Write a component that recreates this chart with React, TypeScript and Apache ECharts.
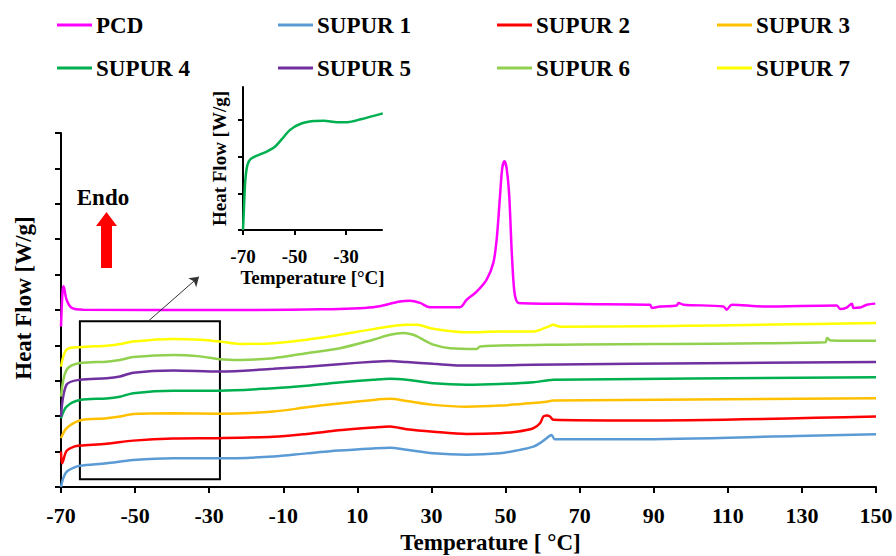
import React, { useEffect, useRef } from "react";
import * as echarts from "echarts";

const FONT = '"Liberation Serif", "Times New Roman", Times, serif';
const X_SHIFT = 70; // axis runs on shifted units so ticks start at a multiple of the interval

const seriesNames = ["PCD", "SUPUR 1", "SUPUR 2", "SUPUR 3", "SUPUR 4", "SUPUR 5", "SUPUR 6", "SUPUR 7"];
const seriesColors = ["#FF00FF", "#5B9BD5", "#FF0000", "#FFC000", "#00B050", "#7030A0", "#92D050", "#FFFF00"];

// [temperature °C, heat flow (offset, arbitrary units)]
const pcd = [
  [-70, 4.53], [-69.6, 5.5], [-69.3, 5.67], [-68.5, 5.29], [-67.1, 5.06], [-64, 5.01], [-30, 5.0], [0, 5.02],
  [14.3, 5.08], [21.5, 5.24], [24.2, 5.26], [26.9, 5.2], [29.6, 5.08], [37.7, 5.08], [39.5, 5.29], [42.2, 5.52],
  [44.9, 5.86], [46.7, 6.33], [47.6, 6.99], [48.5, 8.21], [49.1, 9.0], [49.7, 9.2], [50.3, 9.0], [51.0, 8.21],
  [51.6, 6.8], [52.1, 5.86], [52.6, 5.38], [53.5, 5.2], [70, 5.17], [89, 5.15], [89.5, 5.06], [91.7, 5.1],
  [96.2, 5.13], [96.7, 5.2], [98, 5.15], [108.8, 5.1], [109.7, 5.01], [111.1, 5.15], [119.6, 5.1], [139.4, 5.13],
  [140.3, 5.03], [142.1, 5.07], [143.5, 5.18], [143.9, 5.06], [145.7, 5.07], [147.5, 5.15], [149.8, 5.18],
];
const supur1 = [
  [-70, 0.0], [-69.5, 0.22], [-68.5, 0.43], [-66.5, 0.55], [-64.9, 0.6], [-57.7, 0.67], [-50.5, 0.76], [-39.7, 0.81],
  [-27.1, 0.81], [-12.7, 0.86], [-3.7, 0.95], [5, 1.03], [14.3, 1.09], [18.8, 1.11], [23.3, 1.05], [30.5, 0.95],
  [39.5, 0.91], [48.5, 0.95], [53, 1.03], [57.5, 1.14], [59.3, 1.24], [61.1, 1.38], [62.4, 1.47], [63.3, 1.35],
  [84.5, 1.35], [128.6, 1.44], [150, 1.49],
];
const supur2 = [
  [-70, 1.0], [-69.7, 0.67], [-68.5, 1.02], [-66.5, 1.14], [-64.9, 1.17], [-57.7, 1.22], [-50.5, 1.31], [-39.7, 1.37],
  [-27.1, 1.38], [-12.7, 1.42], [-3.7, 1.5], [5, 1.6], [14.3, 1.68], [18.8, 1.71], [23.3, 1.63], [30.5, 1.56],
  [39.5, 1.5], [48.5, 1.52], [53, 1.56], [57.5, 1.66], [59.3, 1.8], [60.2, 1.99], [61.1, 2.02], [62, 1.99],
  [62.9, 1.9], [84.5, 1.88], [150, 1.99],
];
const supur3 = [
  [-70, 1.38], [-68.5, 1.66], [-64.9, 1.88], [-57.7, 1.94], [-54.1, 1.99], [-50.5, 2.06], [-39.7, 2.08], [-27.1, 2.07],
  [-12.7, 2.13], [-3.7, 2.25], [5, 2.36], [14.3, 2.46], [18.8, 2.49], [23.3, 2.43], [30.5, 2.32], [39.5, 2.27],
  [48.5, 2.3], [57.5, 2.37], [61.1, 2.41], [62.9, 2.44], [150, 2.51],
];
const supur4 = [
  [-70, 1.94], [-68.5, 2.27], [-64.9, 2.46], [-57.7, 2.5], [-54.1, 2.55], [-50.5, 2.65], [-39.7, 2.72], [-27.1, 2.72],
  [-12.7, 2.79], [-3.7, 2.86], [5, 2.95], [14.3, 3.03], [18.8, 3.06], [23.3, 3.03], [30.5, 2.93], [39.5, 2.89],
  [48.5, 2.91], [57.5, 2.96], [61.1, 3.01], [62.9, 3.03], [150, 3.1],
];
const supur5 = [
  [-70, 1.99], [-68.5, 2.89], [-64.9, 3.03], [-57.7, 3.07], [-54.1, 3.12], [-50.5, 3.23], [-39.7, 3.29], [-27.1, 3.26],
  [-12.7, 3.34], [-3.7, 3.4], [5, 3.47], [14.3, 3.54], [18.8, 3.56], [23.3, 3.53], [30.5, 3.48], [39.5, 3.43],
  [57.5, 3.45], [84.5, 3.48], [150, 3.53],
];
const supur6 = [
  [-70, 2.55], [-68.5, 3.31], [-64.9, 3.5], [-57.7, 3.54], [-54.1, 3.59], [-50.5, 3.67], [-39.7, 3.73], [-32.5, 3.69],
  [-27.1, 3.61], [-21.7, 3.59], [-12.7, 3.64], [-3.7, 3.78], [5.3, 3.92], [14.3, 4.16], [18.8, 4.3], [22.4, 4.35],
  [25.1, 4.3], [26.9, 4.21], [30.5, 4.02], [35, 3.92], [42.2, 3.9], [43.1, 3.97], [62, 4.02], [136.3, 4.09],
  [136.8, 4.21], [137.7, 4.14], [150, 4.13],
];
const supur7 = [
  [-70, 3.4], [-68.5, 3.88], [-64.9, 3.95], [-57.7, 3.99], [-54.1, 4.04], [-50.5, 4.11], [-39.7, 4.18], [-32.5, 4.16],
  [-27.1, 4.11], [-21.7, 4.04], [-12.7, 4.06], [-3.7, 4.16], [5.3, 4.3], [14.3, 4.46], [23.3, 4.58], [26, 4.58],
  [30.5, 4.47], [39.5, 4.37], [48.5, 4.39], [57.5, 4.39], [59.3, 4.44], [61.5, 4.53], [62.9, 4.58], [64.7, 4.53],
  [150, 4.63],
];
const seriesData = [pcd, supur1, supur2, supur3, supur4, supur5, supur6, supur7];

// inset: SUPUR 4 magnified, -70 to about -16 °C
const insetCurve = [
  [-70, 0], [-69.6, 0.64], [-69.1, 1.36], [-68.3, 1.77], [-67.1, 1.93], [-64.8, 2.02], [-60.8, 2.14], [-57.6, 2.27],
  [-55, 2.47], [-51.7, 2.73], [-47.8, 2.89], [-42.5, 2.97], [-38.6, 2.98], [-33.4, 2.94], [-29.5, 2.94], [-24.2, 3.02],
  [-15.7, 3.18],
];

const xTickLabels = [-70, -50, -30, -10, 10, 30, 50, 70, 90, 110, 130, 150];
const insetTickLabels = [-70, -50, -30];

// legend columns (two rows)
const legendColumns = [["PCD", "SUPUR 4"], ["SUPUR 1", "SUPUR 5"], ["SUPUR 2", "SUPUR 6"], ["SUPUR 3", "SUPUR 7"]];
const legendLefts = [57, 278, 497, 717];

// zoom box and pointer (in temperature / heat-flow units)
const zoomBox = [[-64.9, 0.22], [-27.1, 4.68]];
const pointer = [[-46.5, 4.68], [-32.75, 5.94]];

const sx = (t: number) => t + X_SHIFT;

export default function App() {
  const ref = useRef<HTMLDivElement>(null);
  useEffect(() => {
    if (!ref.current) return;
    const chart = echarts.init(ref.current, undefined, { renderer: "svg" });
    const bold = { fontFamily: FONT, fontWeight: "bold" as const, color: "#000" };
    const axisLine = { lineStyle: { color: "#000", width: 2 } };
    const mainSeries = seriesNames.map((name, i) => {
      const s: any = {
        name,
        type: "line",
        xAxisIndex: 0,
        yAxisIndex: 0,
        data: seriesData[i].map(([t, v]) => [sx(t), v]),
        showSymbol: false,
        symbol: "none",
        smooth: 0.3,
        lineStyle: { color: seriesColors[i], width: 2.5 },
        itemStyle: { color: seriesColors[i] },
        z: 3,
      };
      if (i === 0) {
        s.markArea = {
          silent: true,
          itemStyle: { color: "rgba(0,0,0,0)", borderColor: "#000", borderWidth: 2 },
          label: { show: false },
          data: [[{ coord: [sx(zoomBox[0][0]), zoomBox[0][1]] }, { coord: [sx(zoomBox[1][0]), zoomBox[1][1]] }]],
        };
        s.markLine = {
          silent: true,
          symbol: ["none", "arrow"],
          symbolSize: 9,
          lineStyle: { color: "#333", width: 1, type: "solid" },
          label: { show: false },
          data: [[{ coord: [sx(pointer[0][0]), pointer[0][1]] }, { coord: [sx(pointer[1][0]), pointer[1][1]] }]],
        };
      }
      return s;
    });
    const option: any = {
      animation: false,
      backgroundColor: "#fff",
      textStyle: { fontFamily: FONT },
      legend: legendColumns.map((col, i) => ({
        left: legendLefts[i],
        top: 13,
        orient: "vertical",
        padding: 0,
        itemGap: 19,
        itemWidth: 35,
        itemHeight: 3,
        icon: "rect",
        selectedMode: false,
        data: col,
        textStyle: { ...bold, fontSize: 23, lineHeight: 24, padding: [0, 0, 0, -1] },
      })),
      grid: [
        { left: 61, right: 20, top: 133, bottom: 69, outerBoundsMode: "none" },
        { left: 243, top: 87, width: 139, height: 143, outerBoundsMode: "none" },
      ],
      xAxis: [
        {
          type: "value",
          gridIndex: 0,
          min: 0,
          max: 220,
          interval: 20,
          axisLine,
          axisTick: { length: 6, lineStyle: { color: "#000", width: 2 } },
          axisLabel: {
            ...bold,
            fontSize: 22,
            margin: 17,
            formatter: (v: number) => {
              const t = Math.round(v - X_SHIFT);
              return xTickLabels.includes(t) ? String(t) : "";
            },
          },
          splitLine: { show: false },
          name: "Temperature [ °C]",
          nameLocation: "middle",
          nameGap: 41,
          nameTextStyle: { ...bold, fontSize: 23, padding: [0, 0, 0, 44] },
        },
        {
          type: "value",
          gridIndex: 1,
          min: 0,
          max: 54,
          interval: 20,
          axisLine,
          axisTick: { length: 5, lineStyle: { color: "#000", width: 2 }, customValues: insetTickLabels.map(sx) },
          axisLabel: {
            ...bold,
            fontSize: 19,
            margin: 17,
            customValues: insetTickLabels.map(sx),
            formatter: (v: number) => String(Math.round(v - X_SHIFT)),
          },
          splitLine: { show: false },
          name: "Temperature [°C]",
          nameLocation: "middle",
          nameGap: 38,
          nameTextStyle: { ...bold, fontSize: 19 },
        },
      ],
      yAxis: [
        {
          type: "value",
          gridIndex: 0,
          min: 0,
          max: 10,
          interval: 1,
          axisLine: { show: true, ...axisLine },
          axisTick: { show: true, length: 6, lineStyle: { color: "#000", width: 2 } },
          axisLabel: { show: false },
          splitLine: { show: false },
          name: "Heat Flow [W/g]",
          nameLocation: "middle",
          nameGap: 26,
          nameTextStyle: { ...bold, fontSize: 23, padding: [0, 0, 0, 24] },
        },
        {
          type: "value",
          gridIndex: 1,
          min: 0,
          max: 3.9,
          interval: 1,
          axisLine: { show: true, ...axisLine },
          axisTick: { show: true, length: 5, lineStyle: { color: "#000", width: 2 }, customValues: [0, 1, 2, 3] },
          axisLabel: { show: false },
          splitLine: { show: false },
          name: "Heat Flow [W/g]",
          nameLocation: "middle",
          nameGap: 14,
          nameTextStyle: { ...bold, fontSize: 19 },
        },
      ],
      graphic: [
        {
          type: "text",
          x: 103,
          y: 197,
          style: { text: "Endo", fontFamily: FONT, fontSize: 23, fontWeight: "bold", fill: "#000", align: "center", verticalAlign: "middle" },
        },
        {
          type: "polygon",
          shape: { points: [[101, 268], [112, 268], [112, 226], [117, 226], [106.5, 212], [96, 226], [101, 226]] },
          style: { fill: "#FF0000" },
        },
      ],
      series: [
        ...mainSeries,
        {
          name: "SUPUR 4 (inset)",
          type: "line",
          xAxisIndex: 1,
          yAxisIndex: 1,
          data: insetCurve.map(([t, v]) => [sx(t), v]),
          showSymbol: false,
          symbol: "none",
          smooth: 0.3,
          lineStyle: { color: "#00B050", width: 2.5 },
          itemStyle: { color: "#00B050" },
        },
      ],
    };
    chart.setOption(option);
    return () => chart.dispose();
  }, []);
  return <div ref={ref} style={{ position: "absolute", left: 0, top: 0, width: 896, height: 556 }} />;
}
